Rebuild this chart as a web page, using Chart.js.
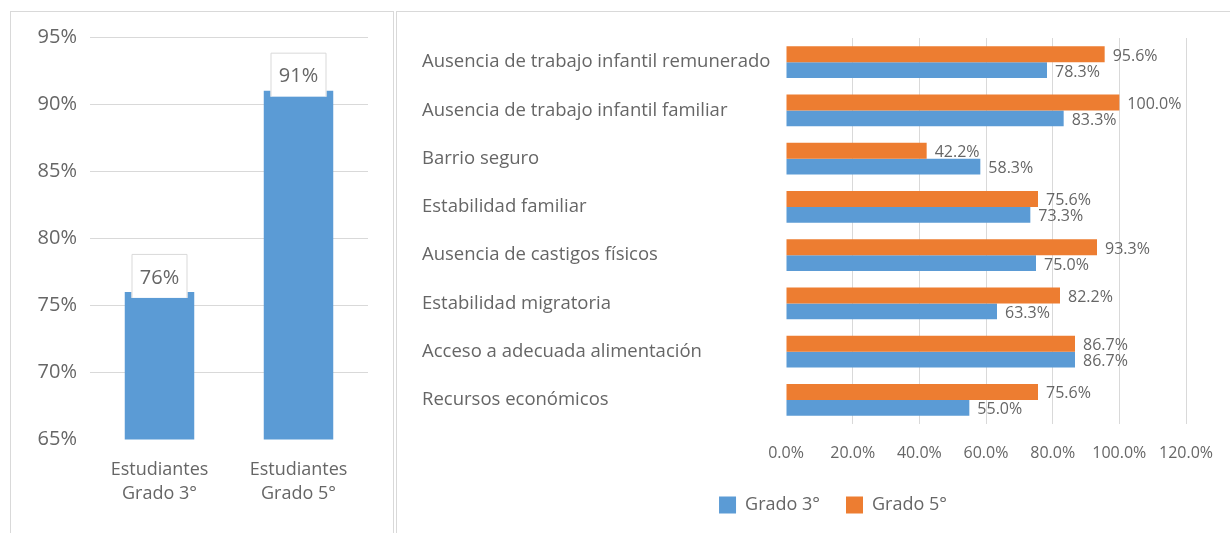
<!DOCTYPE html>
<html>
<head>
<meta charset="utf-8">
<script src="https://cdn.jsdelivr.net/npm/chart.js@4.4.0/dist/chart.umd.min.js"></script>
<style>
  html, body { margin: 0; padding: 0; background: #fff; overflow: hidden; width: 1230px; height: 533px; }
  .panel { position: absolute; border: 1px solid #d9d9d9; box-sizing: border-box; }
  canvas { position: absolute; top: 0; }
</style>
</head>
<body>
<div class="panel" style="left:10px;top:11px;width:384px;height:540px;"></div>
<div class="panel" style="left:396px;top:11px;width:850px;height:540px;"></div>
<canvas id="left" width="393" height="533" style="left:0px;"></canvas>
<canvas id="right" width="822" height="533" style="left:422px;"></canvas>
<script>
// left chart: overall percentage per grade
const groupLabels = [['Estudiantes', 'Grado 3°'], ['Estudiantes', 'Grado 5°']];
const groupValues = [76, 91];
const leftTicks = [65, 70, 75, 80, 85, 90, 95];

// right chart: protective factors per grade
const factors = [
  'Ausencia de trabajo infantil remunerado',
  'Ausencia de trabajo infantil familiar',
  'Barrio seguro',
  'Estabilidad familiar',
  'Ausencia de castigos físicos',
  'Estabilidad migratoria',
  'Acceso a adecuada alimentación',
  'Recursos económicos'
];
const grado3 = [78.3, 83.3, 58.3, 73.3, 75.0, 63.3, 86.7, 55.0];
const grado5 = [95.6, 100.0, 42.2, 75.6, 93.3, 82.2, 86.7, 75.6];
const rightTicks = [0, 20, 40, 60, 80, 100, 120];

const BLUE = '#5b9bd5';
const ORANGE = '#ed7d31';
const GRID = '#d9d9d9';
const TEXT = '#666666';
const FONT = "'Open Sans', sans-serif";

// white boxed labels sitting on top of the columns
const boxLabels = {
  id: 'boxLabels',
  afterDatasetsDraw(chart) {
    const ctx = chart.ctx;
    const meta = chart.getDatasetMeta(0);
    ctx.save();
    meta.data.forEach((bar, i) => {
      const w = 56, top = bar.y - 38, bottom = bar.y + 6;
      ctx.fillStyle = '#fff';
      ctx.fillRect(bar.x - w / 2, top, w, bottom - top);
      ctx.strokeStyle = GRID;
      ctx.lineWidth = 1;
      ctx.beginPath();
      ctx.moveTo(bar.x - w / 2 + 0.5, bottom);
      ctx.lineTo(bar.x - w / 2 + 0.5, top + 0.5);
      ctx.lineTo(bar.x + w / 2 - 0.5, top + 0.5);
      ctx.lineTo(bar.x + w / 2 - 0.5, bottom);
      ctx.stroke();
      ctx.fillStyle = TEXT;
      ctx.font = '20px ' + FONT;
      ctx.textAlign = 'center';
      ctx.textBaseline = 'middle';
      ctx.fillText(groupValues[i] + '%', bar.x, bar.y - 14);
    });
    ctx.restore();
  }
};

new Chart(document.getElementById('left'), {
  type: 'bar',
  data: {
    labels: groupLabels,
    datasets: [{ data: groupValues, backgroundColor: BLUE, categoryPercentage: 1, barPercentage: 0.5 }]
  },
  options: {
    responsive: false,
    devicePixelRatio: 1,
    animation: false,
    layout: { padding: { top: 37, right: 25, left: 0, bottom: 0 } },
    plugins: { legend: { display: false }, tooltip: { enabled: false } },
    scales: {
      x: {
        grid: { display: false },
        border: { display: false },
        ticks: { color: TEXT, font: { family: FONT, size: 18, lineHeight: 1.3 }, padding: 11, maxRotation: 0 },
        afterFit(s) { s.height = 93.5; }
      },
      y: {
        min: leftTicks[0],
        max: leftTicks[leftTicks.length - 1],
        ticks: { stepSize: 5, color: TEXT, font: { family: FONT, size: 20 }, padding: 13, callback: v => v + '%' },
        grid: { color: c => c.tick && c.tick.value === leftTicks[0] ? 'transparent' : GRID, drawTicks: false },
        border: { display: false },
        afterFit(s) { s.width = 90; }
      }
    }
  },
  plugins: [boxLabels]
});

// value labels at the end of each horizontal bar
const endLabels = {
  id: 'endLabels',
  afterDatasetsDraw(chart) {
    const ctx = chart.ctx;
    ctx.save();
    ctx.fillStyle = TEXT;
    ctx.font = '16px ' + FONT;
    ctx.textAlign = 'left';
    ctx.textBaseline = 'middle';
    chart.data.datasets.forEach((ds, di) => {
      chart.getDatasetMeta(di).data.forEach((bar, i) => {
        ctx.fillText(ds.data[i].toFixed(1) + '%', bar.x + 8, bar.y + 2);
      });
    });
    ctx.restore();
  }
};

new Chart(document.getElementById('right'), {
  type: 'bar',
  data: {
    labels: factors,
    datasets: [
      { label: 'Grado 5°', data: grado5, backgroundColor: ORANGE },
      { label: 'Grado 3°', data: grado3, backgroundColor: BLUE }
    ]
  },
  options: {
    indexAxis: 'y',
    responsive: false,
    devicePixelRatio: 1,
    animation: false,
    datasets: { bar: { categoryPercentage: 0.66, barPercentage: 1 } },
    layout: { padding: { top: 38, right: 0, left: 0, bottom: 9 } },
    plugins: {
      tooltip: { enabled: false },
      legend: {
        position: 'bottom',
        reverse: true,
        labels: { boxWidth: 17, boxHeight: 17, padding: 26, color: TEXT, font: { family: FONT, size: 18 } }
      }
    },
    scales: {
      x: {
        min: rightTicks[0],
        max: rightTicks[rightTicks.length - 1],
        ticks: { stepSize: 20, color: TEXT, font: { family: FONT, size: 16 }, padding: 20, callback: v => v.toFixed(1) + '%' },
        grid: { color: c => c.tick && c.tick.value === 0 ? 'transparent' : GRID, drawTicks: false },
        border: { display: false },
        afterFit(s) { s.height = 46; }
      },
      y: {
        grid: { display: false },
        border: { display: false },
        ticks: { crossAlign: 'far', color: TEXT, font: { family: FONT, size: 18.5 } },
        afterFit(s) { s.width = 364; }
      },
      y2: {
        axis: 'y',
        type: 'category',
        position: 'right',
        grid: { display: false },
        border: { display: false },
        ticks: { display: false },
        afterFit(s) { s.width = 58; }
      }
    }
  },
  plugins: [endLabels]
});
</script>
</body>
</html>
